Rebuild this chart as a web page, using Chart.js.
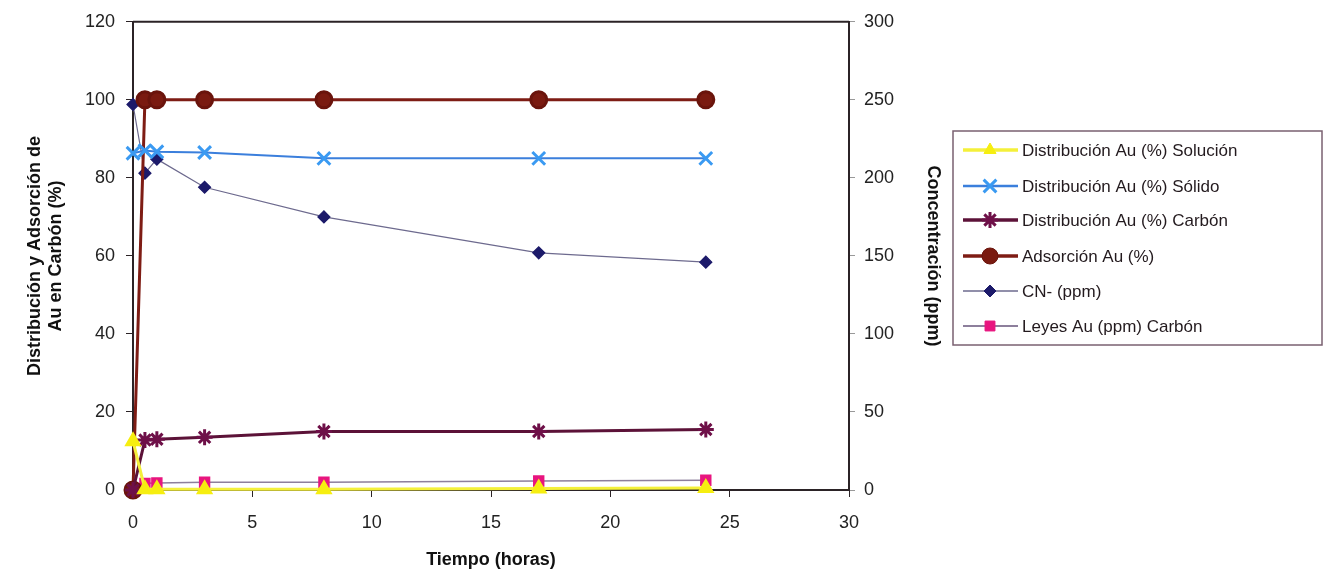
<!DOCTYPE html>
<html>
<head>
<meta charset="utf-8">
<script src="https://cdn.jsdelivr.net/npm/chart.js@4"></script>
<style>
  html, body { margin: 0; padding: 0; background: #fff; }
  #wrap { width: 1324px; height: 577px; position: relative; }
</style>
</head>
<body>
<div id="wrap"><canvas id="myChart" width="1324" height="577"></canvas></div>
<script>
// tiempo en horas
const tiempo = [0, 0.5, 1, 3, 8, 17, 24];
// Distribución Au (%)
const solucion = [12.5, 0.2, 0.2, 0.2, 0.2, 0.4, 0.5];
const solido = [86.3, 87, 86.7, 86.5, 85, 85, 85];
const carbon = [0, 12.8, 13, 13.5, 15, 15, 15.5];
const adsorcion = [0, 100, 100, 100, 100, 100, 100];
// CN- (ppm), eje derecho
const cianuro = [247, 203, 212, 194, 175, 152, 146];
// Leyes Au (ppm) Carbón
const leyes = [0, 1.7, 1.8, 2, 2, 2.3, 2.5];

const xTicks = [0, 5, 10, 15, 20, 25, 30];
const yLeftTicks = [0, 20, 40, 60, 80, 100, 120];
const yRightTicks = [0, 50, 100, 150, 200, 250, 300];

function pts(arr) {
  return tiempo.map((t, i) => ({ x: t, y: arr[i] }));
}

const FONT = "'Liberation Sans', Arial, sans-serif";
const AXIS = '#2b2326';

// marco + leyenda dibujados a mano
const frameLegend = {
  id: 'frameLegend',
  beforeDatasetsDraw(chart) {
    const { ctx, chartArea: a } = chart;
    ctx.save();
    ctx.strokeStyle = AXIS;
    ctx.lineWidth = 2;
    ctx.beginPath();
    ctx.moveTo(a.left, a.top);
    ctx.lineTo(a.right, a.top);
    ctx.stroke();
    ctx.restore();
  },
  afterDraw(chart) {
    const ctx = chart.ctx;
    const bx = 953, by = 131, bw = 369, bh = 214;
    ctx.save();
    ctx.fillStyle = '#fff';
    ctx.fillRect(bx, by, bw, bh);
    ctx.strokeStyle = '#7a6070';
    ctx.lineWidth = 1.5;
    ctx.strokeRect(bx, by, bw, bh);
    const rows = [150, 186, 220, 256, 291, 326];
    chart.data.datasets.forEach((ds, i) => {
      const y = rows[i];
      ctx.strokeStyle = ds.borderColor;
      ctx.lineWidth = ds.borderWidth + 0.5;
      ctx.beginPath();
      ctx.moveTo(963, y);
      ctx.lineTo(1018, y);
      ctx.stroke();
      ctx.fillStyle = ds.pointBackgroundColor;
      ctx.strokeStyle = ds.pointBorderColor;
      ctx.lineWidth = ds.pointBorderWidth || 1;
      Chart.helpers.drawPoint(ctx, {
        pointStyle: ds.pointStyle,
        radius: ds.pointRadius,
        borderWidth: ds.pointBorderWidth || 1,
        rotation: 0
      }, 990, y);
      ctx.fillStyle = '#231a1e';
      ctx.font = '17px ' + FONT;
      ctx.textBaseline = 'middle';
      ctx.textAlign = 'left';
      ctx.fillText(ds.label, 1022, y + 1);
    });
    ctx.restore();
  }
};

new Chart(document.getElementById('myChart'), {
  type: 'line',
  data: {
    datasets: [
      {
        label: 'Distribución Au (%) Solución',
        data: pts(solucion),
        borderColor: '#f4f03a',
        borderWidth: 3,
        pointStyle: 'triangle',
        pointRadius: 7,
        pointBackgroundColor: '#f6ee10',
        pointBorderColor: '#f6ee10',
        yAxisID: 'y'
      },
      {
        label: 'Distribución Au (%) Sólido',
        data: pts(solido),
        borderColor: '#3b7fdc',
        borderWidth: 2,
        pointStyle: 'crossRot',
        pointRadius: 9,
        pointBorderWidth: 3,
        pointBackgroundColor: '#3a9af2',
        pointBorderColor: '#3a9af2',
        yAxisID: 'y'
      },
      {
        label: 'Distribución Au (%) Carbón',
        data: pts(carbon),
        borderColor: '#5c1238',
        borderWidth: 3,
        pointStyle: 'star',
        pointRadius: 8,
        pointBorderWidth: 3,
        pointBackgroundColor: '#6e1048',
        pointBorderColor: '#6e1048',
        yAxisID: 'y'
      },
      {
        label: 'Adsorción Au (%)',
        data: pts(adsorcion),
        borderColor: '#7e1c14',
        borderWidth: 3,
        pointStyle: 'circle',
        pointRadius: 8,
        pointBackgroundColor: '#7a1a10',
        pointBorderColor: '#6a140c',
        yAxisID: 'y'
      },
      {
        label: 'CN- (ppm)',
        data: pts(cianuro),
        borderColor: '#6d6a8e',
        borderWidth: 1.2,
        pointStyle: 'rectRot',
        pointRadius: 6,
        pointBackgroundColor: '#1c1a6a',
        pointBorderColor: '#1c1a6a',
        yAxisID: 'y1'
      },
      {
        label: 'Leyes Au (ppm) Carbón',
        data: pts(leyes),
        borderColor: '#8d7f9c',
        borderWidth: 1.5,
        pointStyle: 'rect',
        pointRadius: 7,
        pointBackgroundColor: '#e8157f',
        pointBorderColor: '#e8157f',
        yAxisID: 'y'
      }
    ]
  },
  options: {
    responsive: false,
    animation: false,
    clip: 12,
    tension: 0,
    layout: { padding: { top: 18, right: 1324 - 849 - 95, left: 24, bottom: 0 } },
    plugins: {
      legend: { display: false },
      tooltip: { enabled: false }
    },
    scales: {
      x: {
        type: 'linear',
        min: 0,
        max: 30,
        afterBuildTicks: s => { s.ticks = xTicks.map(v => ({ value: v })); },
        afterFit: s => { s.height = 87; },
        border: { color: AXIS, width: 2 },
        grid: { drawOnChartArea: false, tickLength: 7, color: AXIS },
        ticks: { color: '#222', font: { family: FONT, size: 18 }, padding: 15 },
        title: {
          display: true,
          text: 'Tiempo (horas)',
          color: '#111',
          font: { family: FONT, size: 18, weight: 'bold' },
          padding: { top: 2, bottom: 6 }
        }
      },
      y: {
        position: 'left',
        min: 0,
        max: 120,
        afterBuildTicks: s => { s.ticks = yLeftTicks.map(v => ({ value: v })); },
        afterFit: s => { s.width = 109; },
        border: { color: AXIS, width: 2 },
        grid: { drawOnChartArea: false, tickLength: 7, color: AXIS },
        ticks: { color: '#222', font: { family: FONT, size: 18 }, padding: 11 },
        title: {
          display: true,
          text: ['Distribución y Adsorción de', 'Au en Carbón (%)'],
          color: '#111',
          font: { family: FONT, size: 18, weight: 'bold' },
          padding: { top: 0, bottom: 18 }
        }
      },
      y1: {
        position: 'right',
        min: 0,
        max: 300,
        afterBuildTicks: s => { s.ticks = yRightTicks.map(v => ({ value: v })); },
        afterFit: s => { s.width = 95; },
        border: { color: AXIS, width: 2 },
        grid: { drawOnChartArea: false, tickLength: 6, color: '#999' },
        ticks: { color: '#222', font: { family: FONT, size: 18 }, padding: 9 },
        title: {
          display: true,
          text: 'Concentración (ppm)',
          color: '#111',
          font: { family: FONT, size: 18, weight: 'bold' },
          padding: { top: 0, bottom: 0 }
        }
      }
    }
  },
  plugins: [frameLegend]
});
</script>
</body>
</html>
